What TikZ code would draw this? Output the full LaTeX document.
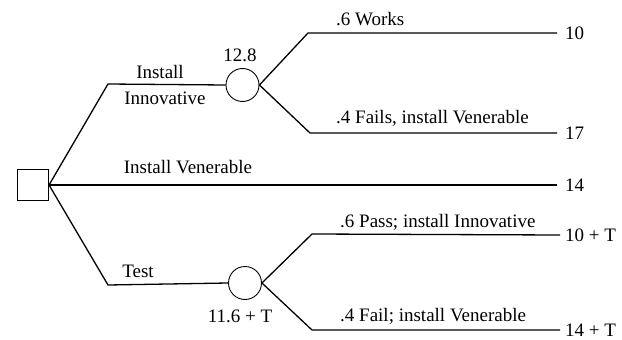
\documentclass[tikz,border=0pt]{standalone}
\usepackage{fontspec}
\setmainfont{Liberation Serif}
\begin{document}
\begin{tikzpicture}[
  x=1pt, y=-1pt,
  font=\fontsize{19}{22}\selectfont,
  decbox/.style={draw, line width=1.1pt, minimum size=31pt, inner sep=0pt},
  chance/.style={draw, circle, line width=0.9pt, minimum size=33pt, inner sep=0pt},
  br/.style={line width=1.3pt, line join=round},
  lbl/.style={inner sep=0pt},
  pay/.style={anchor=west, inner ysep=0pt, inner xsep=8pt}
]
\useasboundingbox (0,0) rectangle (622,340);
\node[decbox] (dec) at (33,185) {};
\node[chance] (c1) at (242.5,85) {};
\node[chance] (c2) at (245,283) {};
\coordinate (k1) at (108,84);
\coordinate (k2) at (108,285);
\coordinate (k3) at (308,33);
\coordinate (k4) at (310,133);
\coordinate (k5) at (312,234);
\coordinate (k6) at (312,330);
% payoffs
\node[pay] (p1) at (557,33) {10};
\node[pay] (p2) at (557,133) {17};
\node[pay] (p3) at (557,185) {14};
\node[pay, inner xsep=5pt] (p4) at (560,235) {10 + T};
\node[pay, inner xsep=5pt] (p5) at (560,330) {14 + T};
% branches
\draw[br] (dec.east) -- (k1) -- (c1.west);
\draw[br] (dec.east) -- (p3.west);
\draw[br] (dec.east) -- (k2) -- (c2.west);
\draw[br] (c1.east) -- (k3) -- (p1.west);
\draw[br] (c1.east) -- (k4) -- (p2.west);
\draw[br] (c2.east) -- (k5) -- (p4.west);
\draw[br] (c2.east) -- (k6) -- (p5.west);
% labels
\node[lbl] (ev1) at (240,55) {12.8};
\node[lbl] (ev2) at (240,316) {11.6 + T};
\node[lbl] (a1) at (160,72) {Install};
\node[lbl] (a2) at (165,98) {Innovative};
\node[lbl] (a3) at (188,167) {Install Venerable};
\node[lbl] (a4) at (138,271) {Test};
\node[lbl, anchor=west] (o1) at (336,19) {.6 Works};
\node[lbl, anchor=west] (o2) at (336,118) {.4 Fails, install Venerable};
\node[lbl, anchor=west] (o3) at (340,222) {.6 Pass; install Innovative};
\node[lbl, anchor=west] (o4) at (340,316) {.4 Fail; install Venerable};
\end{tikzpicture}
\end{document}
